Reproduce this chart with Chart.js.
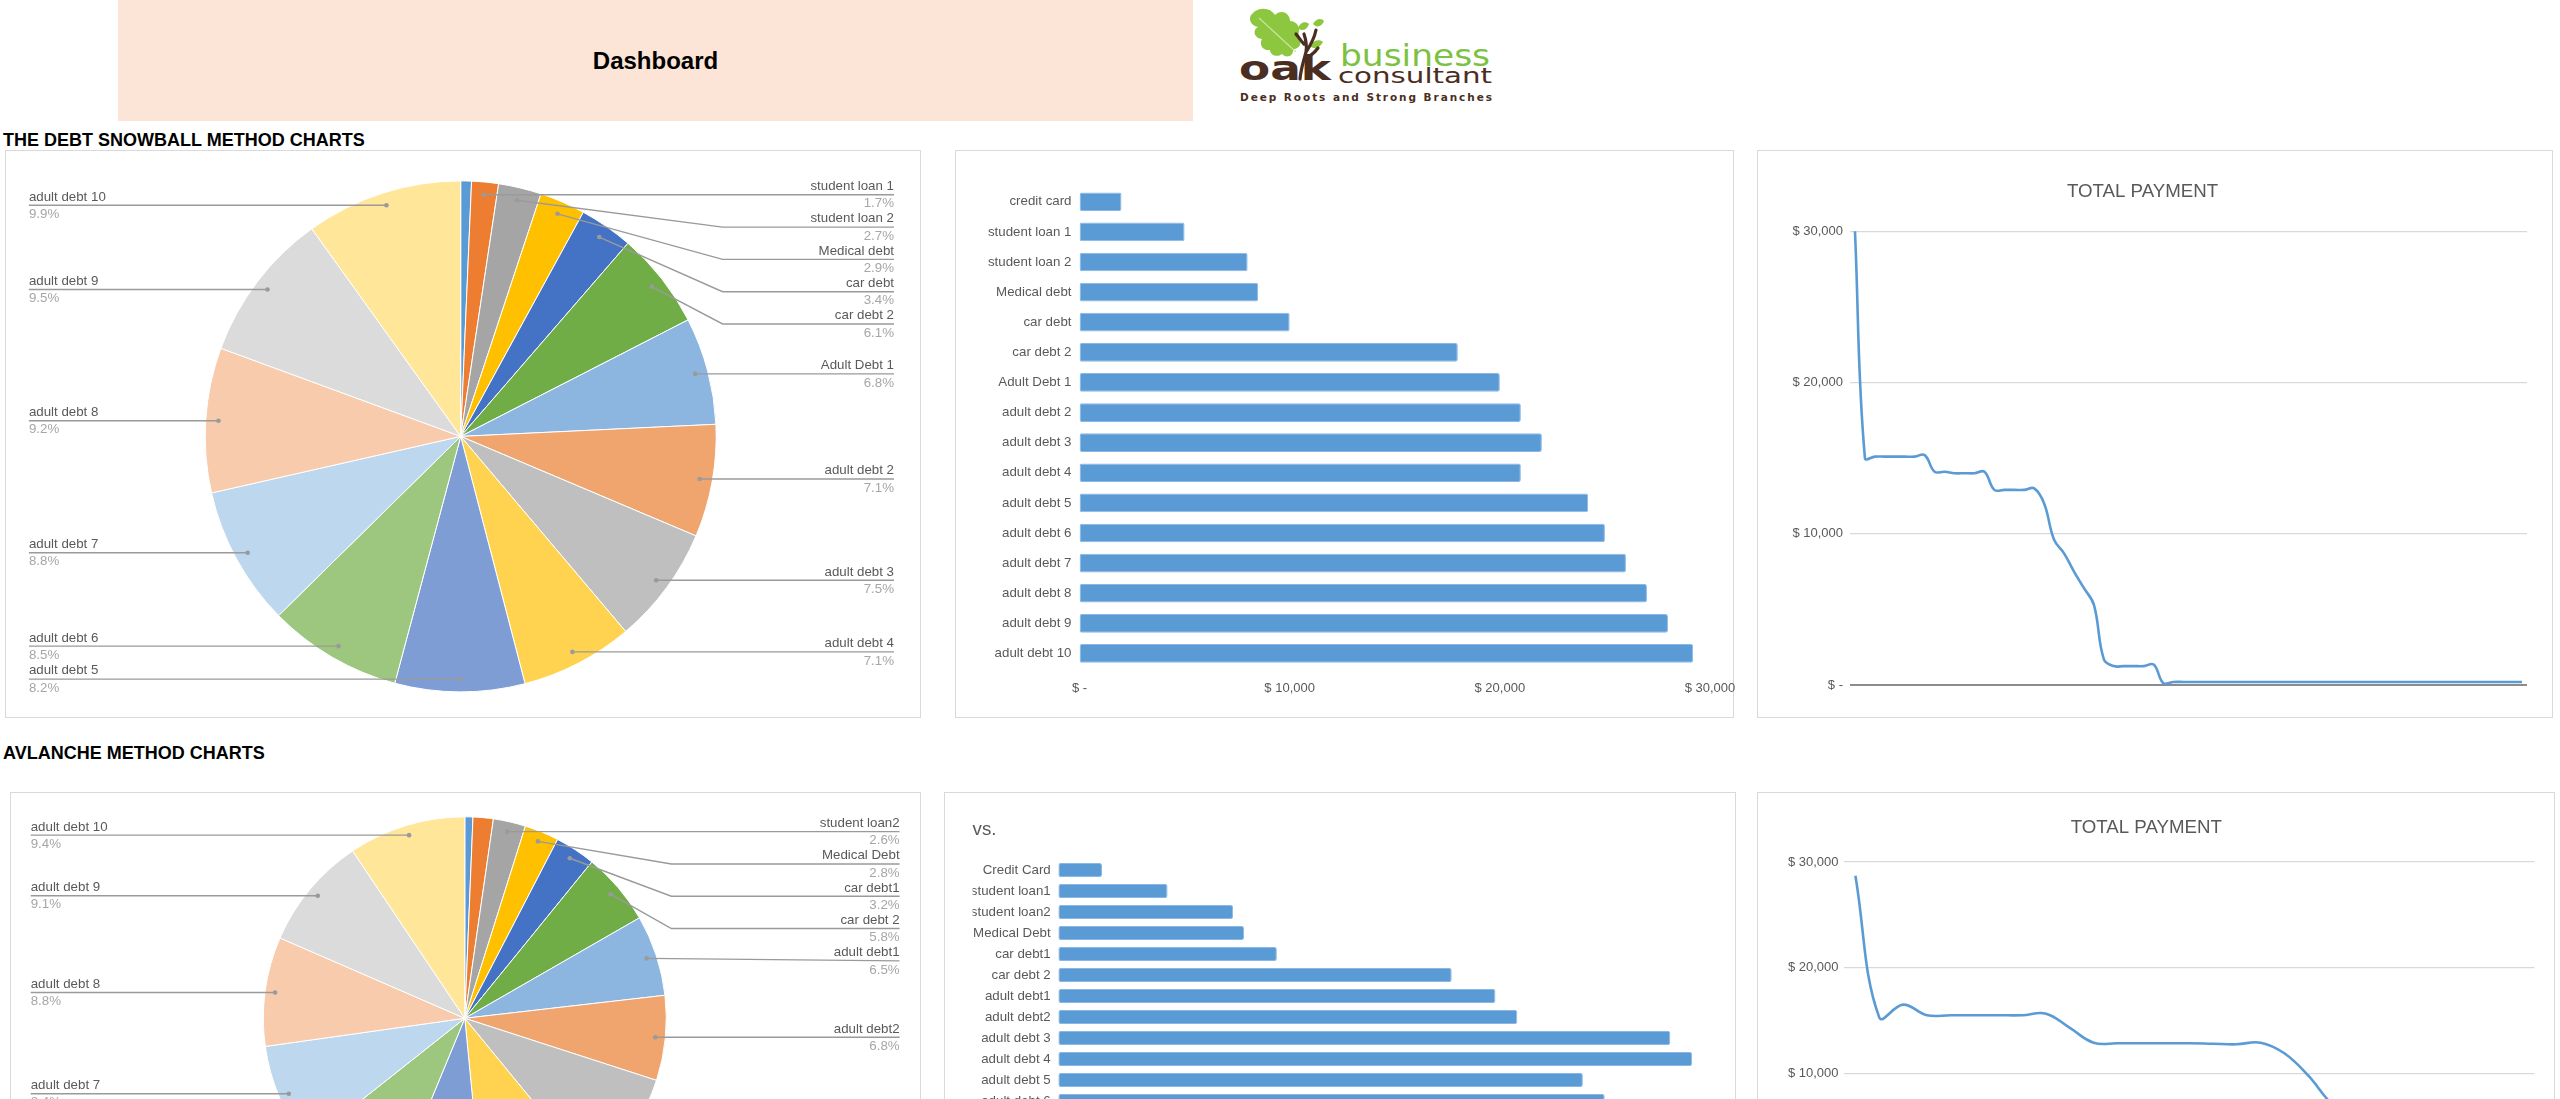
<!DOCTYPE html>
<html>
<head>
<meta charset="utf-8">
<script src="https://cdn.jsdelivr.net/npm/chart.js@4.4.1/dist/chart.umd.min.js"></script>
<style>
  html, body { margin:0; padding:0; background:#ffffff; }
  body { width:2560px; height:1099px; overflow:hidden; position:relative; font-family:'Liberation Sans', Arial, sans-serif; }
  .abs { position:absolute; }
  .box { position:absolute; box-sizing:border-box; border:1px solid #D9D9D9; background:#fff; }
  .box canvas { position:absolute; left:0; top:0; }
  .section { position:absolute; left:3px; font-weight:bold; font-size:18px; line-height:22px; color:#000; white-space:nowrap; }
</style>
</head>
<body>
<div class="abs" style="left:118px;top:0;width:1075px;height:121px;background:#FCE4D6;display:flex;align-items:center;justify-content:center;font-weight:bold;font-size:24px;color:#000;">Dashboard</div>

<svg class="abs" style="left:1234px;top:0px" width="262" height="108" viewBox="0 0 262 108">
  <path d="M18,14 C25,6 37,8 41,15 C46,9 56,12 56,21 C64,21 68,30 63,36 C69,40 67,49 59,49 C60,56 53,59 48,54 C43,58 36,55 36,50 C28,51 25,44 28,39 C20,38 18,30 24,27 C16,25 14,18 18,14 Z" fill="#8DC63F"/>
  <path d="M25,18 L62,52" stroke="#c9e6a3" stroke-width="1.2" fill="none"/>
  <path d="M64,28 C66,22 72,21 75,24 C73,30 68,32 64,28 Z" fill="#8DC63F"/>
  <path d="M79,24 C82,18 88,18 90,21 C88,27 82,28 79,24 Z" fill="#8DC63F"/>
  <path d="M76,46 C79,40 86,39 89,42 C86,48 80,50 76,46 Z" fill="#8DC63F"/>
  <path d="M66,79 C67,68 70,60 72,52 C73,46 72,40 70,34 M72,52 C76,46 80,40 82,30 M71,60 C75,56 80,54 84,48 M70,44 C66,40 64,36 62,34" stroke="#4B2E22" stroke-width="3.2" fill="none" stroke-linecap="round"/>
  <text x="5" y="80" font-family="DejaVu Sans" font-weight="bold" font-size="33" fill="#4B2E22" textLength="92" lengthAdjust="spacingAndGlyphs">oak</text>
  <text x="106" y="66" font-family="DejaVu Sans" font-size="30" fill="#7CC242" textLength="150" lengthAdjust="spacingAndGlyphs">business</text>
  <text x="104" y="83" font-family="DejaVu Sans" font-size="22" fill="#4B2E22" textLength="154" lengthAdjust="spacingAndGlyphs">consultant</text>
  <text x="6" y="101" font-family="DejaVu Sans" font-weight="bold" font-size="10.5" fill="#4B2E22" textLength="252" lengthAdjust="spacing">Deep Roots and Strong Branches</text>
</svg>

<div class="section" style="top:129px;">THE DEBT SNOWBALL METHOD CHARTS</div>
<div class="section" style="top:742px;">AVLANCHE METHOD CHARTS</div>

<div class="box" style="left:5px;top:150px;width:916px;height:568px;"><canvas id="pieTop" width="916" height="568" style="width:916px;height:568px"></canvas></div>
<div class="box" style="left:955px;top:150px;width:779px;height:568px;"><canvas id="barTop" width="779" height="568" style="width:779px;height:568px"></canvas></div>
<div class="box" style="left:1757px;top:150px;width:796px;height:568px;"><canvas id="lineTop" width="796" height="568" style="width:796px;height:568px"></canvas></div>

<div class="box" style="left:10px;top:792px;width:911px;height:470px;"><canvas id="pieBot" width="911" height="470" style="width:911px;height:470px"></canvas></div>
<div class="box" style="left:944px;top:792px;width:792px;height:460px;"><canvas id="barBot" width="792" height="460" style="width:792px;height:460px"></canvas></div>
<div class="box" style="left:1757px;top:792px;width:798px;height:420px;"><canvas id="lineBot" width="798" height="420" style="width:798px;height:420px"></canvas></div>

<script>
// ---------------- DATA ----------------
const snowballCategories = ['credit card','student loan 1','student loan 2','Medical debt','car debt','car debt 2','Adult Debt 1','adult debt 2','adult debt 3','adult debt 4','adult debt 5','adult debt 6','adult debt 7','adult debt 8','adult debt 9','adult debt 10'];
const snowballBalances = [2000,5000,8000,8500,10000,18000,20000,21000,22000,21000,24200,25000,26000,27000,28000,29200];

const avalancheCategories = ['Credit Card','student loan1','student loan2','Medical Debt','car debt1','car debt 2','adult debt1','adult debt2','adult debt 3','adult debt 4','adult debt 5','adult debt 6','adult debt 7','adult debt 8','adult debt 9','adult debt 10'];
const avalancheBalances = [2000,5000,8000,8500,10000,18000,20000,21000,28000,29000,24000,25000,26000,27000,28000,29000];

// slices whose data label is not shown in the original
const snowballHiddenLabels = [0];
const avalancheHiddenLabels = [0,1];

const snowballTotalPayment = [30000,15000,15100,15100,15100,15100,15100,15200,14100,14100,14000,14000,14000,14100,12900,12900,12900,12900,13000,12000,9600,8700,7500,6400,5300,1700,1250,1250,1250,1250,1350,100,200,200,200,200,200,200,200,200,200,200,200,200,200,200,200,200,200,200,200,200,200,200,200,200,200,200,200,200,200,200,200,200,200,200,200,200];
const avalancheTotalPayment = [28700,15300,16500,15500,15500,15500,15500,15500,15650,14300,12900,12850,12850,12850,12850,12800,12750,12900,11900,9800,7100,5500,4200,3000,1800,600,200,200,200];

const snowballMonths = snowballTotalPayment.map((v, i) => String(i + 1));
const avalancheMonths = avalancheTotalPayment.map((v, i) => String(i + 1));

const moneyTicks = [0, 10000, 20000, 30000];
const chartTitle = 'TOTAL PAYMENT';
const vsTitle = 'vs.';

// ---------------- STYLE ----------------
const pieColors = ['#5B9BD5','#ED7D31','#A5A5A5','#FFC000','#4472C4','#70AD47','#8CB5E0','#F0A46E','#BFBFBF','#FFD34F','#7E9DD4','#9DC67F','#BDD7EE','#F8CBAD','#DBDBDB','#FFE699'];
const FONT = "'Liberation Sans', Arial, sans-serif";
const TEXT = '#595959';
Chart.defaults.font.family = FONT;
Chart.defaults.color = TEXT;

function money(v) {
  if (v === 0) return '$ -';
  return '$ ' + String(Math.round(v)).replace(/\B(?=(\d{3})+(?!\d))/g, ',');
}

const pieLeaders = {
  id: 'pieLeaders',
  afterDatasetsDraw(chart, args, o) {
    const meta = chart.getDatasetMeta(0);
    const data = chart.data.datasets[0].data;
    const labels = chart.data.labels;
    const total = data.reduce((a, b) => a + b, 0);
    const items = [];
    meta.data.forEach((arc, i) => {
      if (o.hidden.includes(i)) return;
      const p = arc.getProps(['x','y','startAngle','endAngle','outerRadius'], true);
      const mid = (p.startAngle + p.endAngle) / 2;
      const ax = p.x + Math.cos(mid) * p.outerRadius * 0.95;
      const ay = p.y + Math.sin(mid) * p.outerRadius * 0.95;
      items.push({ i, ax, ay, cx: p.x, r: p.outerRadius, right: ax >= p.x });
    });
    const gap = o.gap;
    const R = items.filter(t => t.right).sort((a, b) => a.ay - b.ay);
    let last = -1e9;
    R.forEach(t => { t.ly = Math.max(t.ay, last + gap); last = t.ly; });
    const L = items.filter(t => !t.right).sort((a, b) => b.ay - a.ay);
    last = 1e9;
    L.forEach(t => { t.ly = Math.min(t.ay, last - gap); last = t.ly; });
    const ctx = chart.ctx;
    ctx.save();
    ctx.font = '13.3px ' + FONT;
    ctx.textBaseline = 'middle';
    items.forEach(t => {
      const edge = t.right ? o.rightX : o.leftX;
      const knee = t.right ? t.cx + t.r * 1.025 : t.cx - t.r * 1.025;
      ctx.strokeStyle = '#9A9A9A';
      ctx.lineWidth = 1.4;
      ctx.beginPath();
      ctx.moveTo(t.ax, t.ay);
      if (Math.abs(t.ly - t.ay) > 3) ctx.lineTo(knee, t.ly);
      ctx.lineTo(edge, t.ly);
      ctx.stroke();
      ctx.fillStyle = '#9A9A9A';
      ctx.beginPath();
      ctx.arc(t.ax, t.ay, 2.3, 0, Math.PI * 2);
      ctx.fill();
      ctx.textAlign = t.right ? 'right' : 'left';
      ctx.fillStyle = TEXT;
      ctx.fillText(labels[t.i], edge, t.ly - 8.3);
      ctx.fillStyle = '#A6A6A6';
      ctx.fillText((data[t.i] / total * 100).toFixed(1) + '%', edge, t.ly + 9);
    });
    ctx.restore();
  }
};

function pieChart(id, labels, values, hidden, pad, leftX, rightX) {
  return new Chart(document.getElementById(id), {
    type: 'pie',
    data: { labels, datasets: [{ data: values, backgroundColor: pieColors, borderColor: '#ffffff', borderWidth: 1 }] },
    options: {
      responsive: false, animation: false, devicePixelRatio: 1,
      layout: { padding: pad },
      plugins: { legend: { display: false }, tooltip: { enabled: false },
        pieLeaders: { hidden, leftX, rightX, gap: 32.3 } }
    },
    plugins: [pieLeaders]
  });
}

function barChart(id, labels, values, cfg) {
  return new Chart(document.getElementById(id), {
    type: 'bar',
    data: { labels, datasets: [{ data: values, backgroundColor: '#5B9BD5', borderColor: '#8AB8E6', borderWidth: 1, borderRadius: 2, borderSkipped: false, categoryPercentage: 1, barPercentage: cfg.barPct }] },
    options: {
      indexAxis: 'y', responsive: false, animation: false, devicePixelRatio: 1,
      layout: { padding: cfg.pad },
      plugins: { legend: { display: false }, tooltip: { enabled: false },
        title: cfg.title ? { display: true, text: cfg.title, align: 'start', color: TEXT, font: { size: 18.7, weight: 'normal', lineHeight: 1.2 }, padding: cfg.titlePad } : { display: false } },
      scales: {
        x: { min: 0, max: 30000, afterBuildTicks: s => { s.ticks = moneyTicks.map(v => ({ value: v })); },
             grid: { display: false, drawTicks: false }, border: { display: false },
             ticks: { padding: cfg.xPad, color: TEXT, font: { size: 13 }, callback: v => money(v), maxRotation: 0 },
             afterFit: s => { s.height = cfg.xH; s.paddingLeft = 0; s.paddingRight = 0; } },
        y: { grid: { display: false, drawTicks: false }, border: { display: false },
             ticks: { padding: cfg.yPad, color: TEXT, font: { size: 13.3 }, autoSkip: false },
             afterFit: s => { s.width = cfg.yW; s.paddingTop = 0; s.paddingBottom = 0; } }
      }
    }
  });
}

function lineChart(id, labels, values, cfg) {
  return new Chart(document.getElementById(id), {
    type: 'line',
    data: { labels, datasets: [{ data: values, borderColor: '#5B9BD5', borderWidth: 2.6, pointRadius: 0, tension: 0.4, fill: false, clip: false }] },
    options: {
      responsive: false, animation: false, devicePixelRatio: 1,
      layout: { padding: cfg.pad },
      plugins: { legend: { display: false }, tooltip: { enabled: false },
        title: { display: true, text: chartTitle, color: TEXT, font: { size: 18.7, weight: 'normal', lineHeight: 1.2 }, padding: cfg.titlePad } },
      scales: {
        x: { display: false, offset: true },
        y: { min: 0, max: 30000, afterBuildTicks: s => { s.ticks = moneyTicks.map(v => ({ value: v })); },
             border: { display: false },
             grid: { drawTicks: false, color: c => c.tick && c.tick.value === 0 ? '#8C8C8C' : '#D9D9D9', lineWidth: c => c.tick && c.tick.value === 0 ? 2 : 1.3 },
             ticks: { padding: cfg.yPad, color: TEXT, font: { size: 13 }, callback: v => money(v) },
             afterFit: s => { s.width = cfg.yW; } }
      }
    }
  });
}

// ---------------- CHARTS ----------------
pieChart('pieTop', snowballCategories, snowballBalances, snowballHiddenLabels,
  { left: 198.7, right: 205.3, top: 29.4, bottom: 26.6 }, 22.9, 888);
pieChart('pieBot', avalancheCategories, avalancheBalances, avalancheHiddenLabels,
  { left: 251.8, right: 255.2, top: 23.3, bottom: 42.7 }, 19.7, 888.6);

barChart('barTop', snowballCategories, snowballBalances,
  { pad: { top: 35.7, right: 25, bottom: 0, left: 0 }, yW: 123.5, xH: 50.5, xPad: 12, yPad: 8, barPct: 0.62 });
barChart('barBot', avalancheCategories, avalancheBalances,
  { pad: { top: 0, right: 23, bottom: 0, left: 27.6 }, yW: 85.7, xH: 57.5, xPad: 12, yPad: 7.6, barPct: 0.67,
    title: vsTitle, titlePad: { top: 25.8, bottom: 18.3 } });

lineChart('lineTop', snowballMonths, snowballTotalPayment,
  { pad: { top: 0, right: 27, bottom: 34, left: 0 }, yW: 92, yPad: 7, titlePad: { top: 29.8, bottom: 28 } });
lineChart('lineBot', avalancheMonths, avalancheTotalPayment,
  { pad: { top: 0, right: 21.5, bottom: 34, left: 0 }, yW: 85.5, yPad: 5, titlePad: { top: 23.5, bottom: 23.1 } });
</script>
</body>
</html>
